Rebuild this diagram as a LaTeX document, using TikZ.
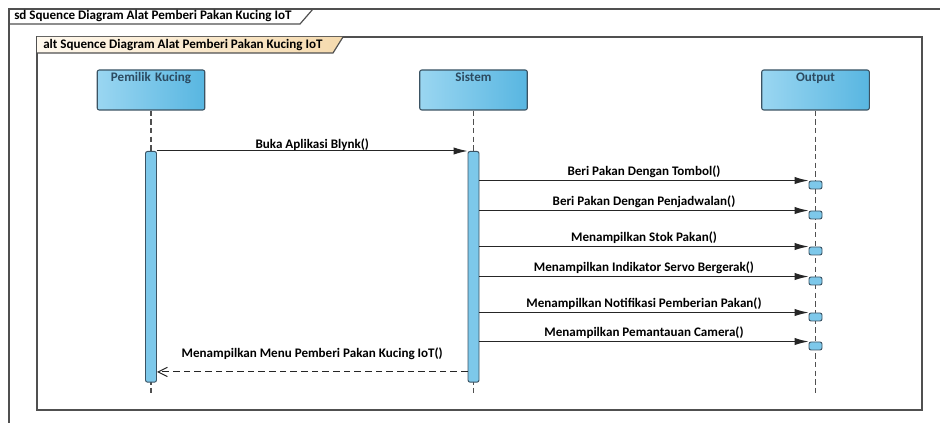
\documentclass[tikz,border=0pt]{standalone}
\usepackage{fontspec}
\setmainfont{Carlito}
\usetikzlibrary{arrows.meta}

\definecolor{headL}{HTML}{9AD6F1}
\definecolor{headR}{HTML}{58B6E1}
\definecolor{headLine}{HTML}{3B5363}
\definecolor{headText}{HTML}{2C4A60}
\definecolor{barFill}{HTML}{7DC8EA}
\definecolor{frameLine}{HTML}{505050}
\definecolor{tabL}{HTML}{FFF9EE}
\definecolor{tabR}{HTML}{F5DAAE}

\tikzset{
	umltext/.style={font=\fontsize{9.8}{11}\selectfont\bfseries},
	lifehead/.style={umltext, draw=headLine, line width=0.8pt, rounded corners=1.5pt,
		left color=headL, right color=headR, text=headText,
		minimum width=80.25pt, text width=74pt, align=center,
		inner ysep=2pt, text height=6.5pt, text depth=19.5pt},
	lifeline/.style={draw=frameLine, line width=0.9pt, dash pattern=on 4pt off 2.5pt},
	actbar/.style={draw=headLine, line width=0.7pt, fill=barFill, rounded corners=1.5pt,
		minimum width=8.25pt, inner sep=0pt, anchor=north},
	outbar/.style={draw=headLine, line width=0.7pt, fill=barFill, rounded corners=1.5pt,
		minimum width=9.75pt, minimum height=6pt, inner sep=0pt},
	msg/.style={draw=black!85, line width=0.75pt, -{Latex[length=10.5pt,width=5.5pt]}},
	retmsg/.style={draw=black!85, line width=0.75pt, dash pattern=on 5pt off 3pt,
		-{Straight Barb[length=7pt,width=7pt]}},
	msglabel/.style={umltext, midway, anchor=base, inner sep=0pt, yshift=3.75pt},
	frame/.style={draw=frameLine, line width=0.9pt},
	tabtext/.style={umltext, anchor=west, inner sep=0pt}
}

\begin{document}
\begin{tikzpicture}[x=0.75pt, y=-0.75pt]
	\useasboundingbox (0,0) rectangle (940,423);
	\clip (0,0) rectangle (940,423);

	\draw[frame] (9,440) -- (9,9) -- (950,9);
	\draw[frame] (9,24) -- (300,24) -- (313,9);
	\node[tabtext] (sdtab) at (14,16.5) {sd Squence Diagram Alat Pemberi Pakan Kucing IoT};

	\draw[frame] (37,37) rectangle (922,410);
	\path[left color=tabL, right color=tabR] (37,37) -- (343,37) -- (333,53) -- (37,53) -- cycle;
	\draw[frame] (37,53) -- (333,53) -- (343,37);
	\node[tabtext] (alttab) at (43,45) {alt Squence Diagram Alat Pemberi Pakan Kucing IoT};

	\node[lifehead] (pemilik) at (151,90) {Pemilik Kucing};
	\node[lifehead] (sistem) at (473.5,90) {Sistem};
	\node[lifehead] (output) at (815.5,90) {Output};

	\coordinate (endA) at (151,395);
	\coordinate (endB) at (473.5,395);
	\coordinate (endC) at (815.5,395);
	\draw[lifeline] (pemilik) -- (endA);
	\draw[lifeline] (sistem) -- (endB);
	\draw[lifeline] (output) -- (endC);

	\node[actbar, minimum height=173pt] (actA) at (151,151) {};
	\node[actbar, minimum height=173pt] (actB) at (473.5,151) {};

	\node[outbar] (o1) at (815.5,185) {};
	\node[outbar] (o2) at (815.5,215) {};
	\node[outbar] (o3) at (815.5,251) {};
	\node[outbar] (o4) at (815.5,281) {};
	\node[outbar] (o5) at (815.5,317) {};
	\node[outbar] (o6) at (815.5,346) {};

	\draw[msg] (actA.north east) -- node[msglabel, yshift=-1.75pt] {Buka Aplikasi Blynk()} (actB.north west);
	\draw[msg] (actB.east |- o1.north) -- node[msglabel] {Beri Pakan Dengan Tombol()} (o1.north west);
	\draw[msg] (actB.east |- o2.north) -- node[msglabel] {Beri Pakan Dengan Penjadwalan()} (o2.north west);
	\draw[msg] (actB.east |- o3.north) -- node[msglabel] {Menampilkan Stok Pakan()} (o3.north west);
	\draw[msg] (actB.east |- o4.north) -- node[msglabel] {Menampilkan Indikator Servo Bergerak()} (o4.north west);
	\draw[msg] (actB.east |- o5.north) -- node[msglabel] {Menampilkan Notifikasi Pemberian Pakan()} (o5.north west);
	\draw[msg] (actB.east |- o6.north) -- node[msglabel] {Menampilkan Pemantauan Camera()} (o6.north west);
	\draw[retmsg] ([yshift=8pt]actB.south west) -- node[msglabel, yshift=7.25pt] {Menampilkan Menu Pemberi Pakan Kucing IoT()} ([yshift=8pt]actA.south east);
\end{tikzpicture}
\end{document}
